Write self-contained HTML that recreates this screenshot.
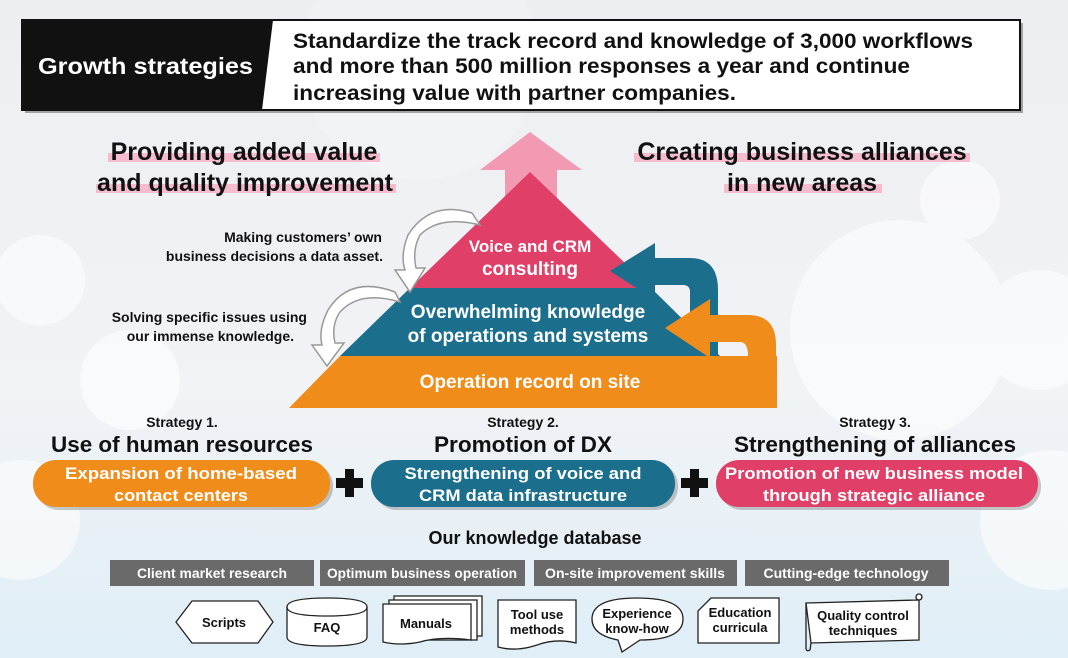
<!DOCTYPE html>
<html><head><meta charset="utf-8"><style>
html,body{margin:0;padding:0;width:1068px;height:658px;overflow:hidden;background:#eef1f5}
svg{display:block;font-family:"Liberation Sans",Arial,sans-serif;font-weight:bold}
</style></head><body>
<svg width="1068" height="658" viewBox="0 0 1068 658" xmlns="http://www.w3.org/2000/svg">
<defs>
<linearGradient id="bg" x1="0" y1="0" x2="0" y2="1">
<stop offset="0" stop-color="#eceef2"/><stop offset="0.6" stop-color="#f1f3f6"/><stop offset="1" stop-color="#dfeef7"/>
</linearGradient>
</defs>
<rect width="1068" height="658" fill="url(#bg)"/>
<g fill="#ffffff" opacity="0.55">
<circle cx="900" cy="330" r="110"/><circle cx="1040" cy="330" r="60"/><circle cx="40" cy="280" r="45"/>
<circle cx="130" cy="380" r="50"/><circle cx="960" cy="200" r="40"/><circle cx="420" cy="60" r="120" opacity="0.4"/>
<circle cx="1050" cy="520" r="70"/><circle cx="20" cy="520" r="60"/>
</g>
<!-- header -->
<rect x="25" y="23" width="998" height="90" fill="#555" opacity="0.5"/>
<rect x="22" y="20" width="998" height="90" fill="#fff" stroke="#111" stroke-width="2"/>
<polygon points="22,20 273,20 262,110 22,110" fill="#111"/>
<text x="38" y="74" font-size="23" fill="#fff" textLength="215" lengthAdjust="spacingAndGlyphs">Growth strategies</text>
<g font-size="21" fill="#111">
<text x="293" y="48" textLength="680" lengthAdjust="spacingAndGlyphs">Standardize the track record and knowledge of 3,000 workflows</text>
<text x="293" y="73" textLength="617" lengthAdjust="spacingAndGlyphs">and more than 500 million responses a year and continue</text>
<text x="293" y="100" textLength="443" lengthAdjust="spacingAndGlyphs">increasing value with partner companies.</text>
</g>
<g fill="#f4bccd">
<rect x="108" y="153" width="272" height="9"/><rect x="96" y="184" width="300" height="9"/>
<rect x="634" y="153" width="336" height="9"/><rect x="724" y="184" width="158" height="9"/>
</g>
<g font-size="25" fill="#111">
<text x="244" y="160" text-anchor="middle">Providing added value</text>
<text x="245" y="191" text-anchor="middle">and quality improvement</text>
<text x="802" y="160" text-anchor="middle">Creating business alliances</text>
<text x="802" y="191" text-anchor="middle">in new areas</text>
</g>
<polygon points="530,132 582,170 557,170 557,230 505,230 505,170 480,170" fill="#f29ab2"/>
<!-- pyramid -->
<polygon points="530,172 651,288 410,288" fill="#e04068"/>
<polygon points="410,288 651,288 720,356 340,356" fill="#1c6f8c"/>
<polygon points="340,356 720,356 777,356 777,408 289,408" fill="#f08c1a"/>
<!-- blue curved arrow -->
<path d="M650,258 L690,258 Q718,258 718,290 L718,356 L690,356 L690,292 Q690,285 683,285 L650,285 Z" fill="#1c6f8c"/>
<polygon points="610,271 655,243 655,300" fill="#1c6f8c"/>
<!-- orange curved arrow -->
<path d="M710,315 L748,315 Q776,315 776,345 L776,408 L748,408 L748,382 L722,356 L748,356 Q748,342 740,342 L710,342 Z" fill="#f08c1a"/>
<polygon points="665,328 710,299 710,358" fill="#f08c1a"/>
<!-- gray curving arrows -->
<path d="M472,213 Q430,200 408,235 Q400,255 405,270 L395,270 L410,292 L425,268 L416,268 Q412,250 420,235 Q440,215 480,225 Z" fill="#fff" stroke="#999" stroke-width="1.5"/>
<path d="M395,292 Q350,275 328,310 Q318,330 322,345 L312,345 L327,366 L344,343 L335,343 Q331,325 340,312 Q360,290 400,302 Z" fill="#fff" stroke="#999" stroke-width="1.5"/>
<g fill="#fff" text-anchor="middle">
<text x="530" y="252" font-size="17">Voice and CRM</text>
<text x="530" y="275" font-size="19">consulting</text>
<text x="528" y="318" font-size="19">Overwhelming knowledge</text>
<text x="528" y="342" font-size="19">of operations and systems</text>
<text x="530" y="388" font-size="19">Operation record on site</text>
</g>
<g font-size="14" fill="#111" text-anchor="end">
<text x="382" y="242">Making customers’ own</text>
<text x="383" y="261">business decisions a data asset.</text>
<text x="307" y="322">Solving specific issues using</text>
<text x="294" y="341">our immense knowledge.</text>
</g>
<g fill="#111" text-anchor="middle">
<text x="182" y="427" font-size="14">Strategy 1.</text>
<text x="523" y="427" font-size="14">Strategy 2.</text>
<text x="875" y="427" font-size="14">Strategy 3.</text>
<text x="182" y="452" font-size="22" textLength="262" lengthAdjust="spacingAndGlyphs">Use of human resources</text>
<text x="523" y="452" font-size="22" textLength="178" lengthAdjust="spacingAndGlyphs">Promotion of DX</text>
<text x="875" y="452" font-size="22" textLength="282" lengthAdjust="spacingAndGlyphs">Strengthening of alliances</text>
</g>
<g opacity="0.35" fill="#666">
<rect x="36" y="463" width="297" height="47" rx="23"/><rect x="374" y="463" width="304" height="47" rx="23"/><rect x="719" y="463" width="322" height="47" rx="23"/>
</g>
<rect x="33" y="460" width="297" height="47" rx="23" fill="#f08c1a"/>
<rect x="371" y="460" width="304" height="47" rx="23" fill="#1c6f8c"/>
<rect x="716" y="460" width="322" height="47" rx="23" fill="#e04068"/>
<g fill="#fff" text-anchor="middle" font-size="17">
<text x="181" y="479" textLength="232" lengthAdjust="spacingAndGlyphs">Expansion of home-based</text>
<text x="181" y="501" textLength="134" lengthAdjust="spacingAndGlyphs">contact centers</text>
<text x="523" y="479" textLength="237" lengthAdjust="spacingAndGlyphs">Strengthening of voice and</text>
<text x="523" y="501" textLength="208" lengthAdjust="spacingAndGlyphs">CRM data infrastructure</text>
<text x="874" y="479" textLength="298" lengthAdjust="spacingAndGlyphs">Promotion of new business model</text>
<text x="874" y="501" textLength="222" lengthAdjust="spacingAndGlyphs">through strategic alliance</text>
</g>
<g fill="#111">
<rect x="345" y="469" width="9" height="28"/><rect x="336" y="478" width="27" height="10"/>
<rect x="690" y="469" width="9" height="28"/><rect x="681" y="478" width="27" height="10"/>
</g>
<text x="535" y="544" font-size="18" fill="#111" text-anchor="middle">Our knowledge database</text>
<g fill="#6a6a6a">
<rect x="110" y="560" width="204" height="26"/><rect x="320" y="560" width="205" height="26"/>
<rect x="534" y="560" width="203" height="26"/><rect x="745" y="560" width="204" height="26"/>
</g>
<g fill="#fff" font-size="14" text-anchor="middle">
<text x="212" y="578" textLength="150" lengthAdjust="spacingAndGlyphs">Client market research</text>
<text x="422" y="578" textLength="190" lengthAdjust="spacingAndGlyphs">Optimum business operation</text>
<text x="635" y="578" textLength="180" lengthAdjust="spacingAndGlyphs">On-site improvement skills</text>
<text x="846" y="578" textLength="165" lengthAdjust="spacingAndGlyphs">Cutting-edge technology</text>
</g>
<g fill="#fff" stroke="#222" stroke-width="1.3">
<polygon points="176,622 192,601 258,601 273,622 258,643 192,643"/>
<path d="M287,607 Q287,598 327,598 Q367,598 367,607 L367,637 Q367,646 327,646 Q287,646 287,637 Z"/>
<path d="M287,607 Q287,616 327,616 Q367,616 367,607" fill="none"/>
<rect x="394" y="596" width="88" height="40"/>
<rect x="389" y="600" width="88" height="40"/>
<path d="M383,604 L471,604 L471,640 Q440,636 420,642 Q400,646 383,642 Z"/>
<path d="M498,600 L576,600 L576,643 Q556,638 537,645 Q516,652 498,647 Z"/>
<path d="M618,640 Q592,635 592,619 Q592,598 637,598 Q683,598 683,619 Q683,640 640,640 L622,652 Z"/>
<polygon points="711,598 779,598 779,643 698,643 698,611"/>
<path d="M806,603 L919,600 L919,640 L811,643 Z"/>
<path d="M806,603 L806,648 Q806,652 810,650 L811,643" fill="none"/>
<circle cx="919" cy="597" r="3"/>
</g>
<g fill="#111" font-size="13" text-anchor="middle">
<text x="224" y="627">Scripts</text>
<text x="327" y="632">FAQ</text>
<text x="426" y="628">Manuals</text>
<text x="537" y="619">Tool use</text>
<text x="537" y="634">methods</text>
<text x="637" y="618">Experience</text>
<text x="637" y="633">know-how</text>
<text x="740" y="617">Education</text>
<text x="740" y="632">curricula</text>
<text x="863" y="620">Quality control</text>
<text x="863" y="635">techniques</text>
</g>
</svg>
</body></html>
